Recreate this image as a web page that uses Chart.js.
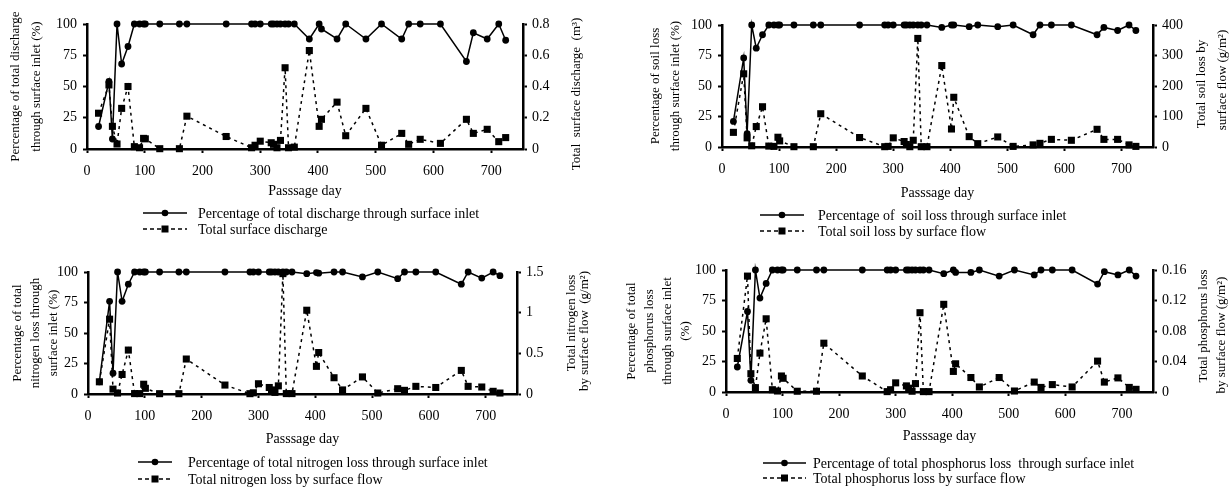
<!DOCTYPE html>
<html>
<head>
<meta charset="utf-8">
<script src="https://cdn.jsdelivr.net/npm/chart.js@4.4.1/dist/chart.umd.min.js"></script>
<style>
  body { margin: 0; background: #fff; }
  #wrap { position: relative; width: 1231px; height: 491px; }
  canvas { position: absolute; }
</style>
</head>
<body>
<div id="wrap">
  <canvas id="dischargeChart" width="615" height="245" style="left:0;top:0"></canvas>
  <canvas id="soilChart" width="616" height="245" style="left:615px;top:0"></canvas>
  <canvas id="nitrogenChart" width="615" height="246" style="left:0;top:245px"></canvas>
  <canvas id="phosphorusChart" width="616" height="246" style="left:615px;top:245px"></canvas>
</div>
<script>
// sampling days shared by all four panels
const passageDays = [20, 38, 44, 52, 60, 71, 82, 91, 98, 101, 126, 160, 173, 241, 285, 291, 300, 319, 323, 329,
  335, 343, 349, 359, 385, 402, 406, 433, 448, 483, 510, 545, 557, 577, 612, 657, 669, 693, 713, 725];

// discharge (m3)
const dischargePct = [18, 54, 8, 100, 68, 82, 100, 100, 100, 100, 100, 100, 100, 100, 100, 100, 100, 100, 100, 100,
  100, 100, 100, 100, 88, 100, 96, 88, 100, 88, 100, 88, 100, 100, 100, 70, 93, 88, 100, 87];
const dischargeTotal = [0.229, 0.41, 0.145, 0.032, 0.26, 0.40, 0.015, 0.008, 0.068, 0.065, 0.002, 0.002, 0.21, 0.08, 0.008, 0.024, 0.05, 0.04, 0.03, 0.008,
  0.055, 0.52, 0.008, 0.012, 0.63, 0.145, 0.19, 0.30, 0.085, 0.26, 0.024, 0.10, 0.03, 0.062, 0.036, 0.19, 0.10, 0.126, 0.047, 0.073];

// soil loss (g/m2)
const soilPct = [21, 73, 11, 100, 81, 92, 100, 100, 100, 100, 100, 100, 100, 100, 100, 100, 100, 100, 100, 100,
  100, 100, 100, 100, 98, 100, 100, 98.6, 100, 98.6, 100, 92, 100, 100, 100, 92, 98, 95.5, 100, 95.5];
const soilTotal = [48, 240, 30, 4, 67, 132, 3, 2, 32, 20, 1, 1, 109, 31, 1, 2, 30, 18, 8, 1,
  22, 356, 1, 1, 267, 59, 163, 34, 11, 33, 2, 7, 12, 25, 22, 58, 25, 25, 7, 2];

// nitrogen loss (g/m2)
const nitrogenPct = [10, 76, 17, 100, 76, 90, 100, 100, 100, 100, 100, 100, 100, 100, 100, 100, 100, 100, 100, 100,
  100, 100, 100, 100, 98.6, 99.5, 99, 100, 100, 96, 100, 94.5, 100, 100, 100, 90, 100, 95, 100, 97];
const nitrogenTotal = [0.15, 0.92, 0.06, 0.012, 0.24, 0.54, 0.005, 0.005, 0.12, 0.07, 0.004, 0.004, 0.43, 0.11, 0.004, 0.015, 0.126, 0.08, 0.05, 0.02,
  0.1, 1.48, 0.005, 0.005, 1.03, 0.34, 0.51, 0.2, 0.05, 0.21, 0.012, 0.065, 0.045, 0.094, 0.08, 0.29, 0.094, 0.086, 0.033, 0.012];

// phosphorus loss (g/m2)
const phosphorusPct = [20.5, 66, 9.6, 100, 77, 89, 100, 100, 100, 100, 100, 100, 100, 100, 100, 100, 100, 100, 100, 100,
  100, 100, 100, 100, 97, 100, 98, 98, 100, 95, 100, 96, 100, 100, 100, 88.5, 98.6, 96, 100, 95];
const phosphorusTotal = [0.044, 0.152, 0.024, 0.0057, 0.051, 0.096, 0.003, 0.0013, 0.021, 0.018, 0.001, 0.001, 0.064, 0.021, 0.0005, 0.003, 0.012, 0.008, 0.005, 0.001,
  0.011, 0.104, 0.0005, 0.0005, 0.115, 0.027, 0.037, 0.019, 0.0066, 0.019, 0.0013, 0.013, 0.006, 0.0097, 0.0066, 0.0405, 0.013, 0.0185, 0.006, 0.0035];

// tick labels
const dayTicks = ["0", "100", "200", "300", "400", "500", "600", "700"];
const pctTicks = ["0", "25", "50", "75", "100"];
const dischargeTicks = ["0", "0.2", "0.4", "0.6", "0.8"];
const soilTicks = ["0", "100", "200", "300", "400"];
const nitrogenTicks = ["0", "0.5", "1", "1.5"];
const phosphorusTicks = ["0", "0.04", "0.08", "0.12", "0.16"];

const serif = "'Liberation Serif', 'Times New Roman', serif";
Chart.defaults.font.family = serif;
Chart.defaults.color = "#000";

function toPoints(values) {
  return passageDays.map((day, i) => ({ x: day, y: values[i] }));
}

// right axis title (reads bottom to top) + the stacked legend under the x title
const panelExtras = {
  id: "panelExtras",
  afterDraw(chart, args, opts) {
    const ctx = chart.ctx;
    const area = chart.chartArea;
    ctx.save();
    ctx.fillStyle = "#000";
    ctx.strokeStyle = "#000";

    ctx.font = "13px " + serif;
    ctx.textAlign = "center";
    ctx.textBaseline = "middle";
    opts.rightTitle.lines.forEach((line, i) => {
      ctx.save();
      ctx.translate(area.right + opts.rightTitle.dx[i], opts.rightTitle.y[i]);
      ctx.rotate(-Math.PI / 2);
      ctx.fillText(line, 0, 0);
      ctx.restore();
    });

    const lg = opts.legend;
    ctx.font = "14px " + serif;
    ctx.textAlign = "left";
    chart.data.datasets.forEach((ds, i) => {
      const y = lg.y + i * lg.rowH;
      const mid = lg.x + lg.len / 2;
      ctx.beginPath();
      ctx.lineWidth = 1.5;
      ctx.setLineDash(ds.borderDash ? [4, 3] : []);
      ctx.moveTo(lg.x, y);
      ctx.lineTo(lg.x + lg.len, y);
      ctx.stroke();
      ctx.setLineDash([]);
      if (ds.pointStyle === "rect") {
        ctx.fillRect(mid - 3.5, y - 3.5, 7, 7);
      } else {
        ctx.beginPath();
        ctx.arc(mid, y, 3.3, 0, Math.PI * 2);
        ctx.fill();
      }
      ctx.fillText(ds.label, lg.textX, y + 1);
    });
    ctx.restore();
  }
};

const axisGrid = { drawOnChartArea: false, tickLength: 4, tickWidth: 2, tickColor: "#000" };
const axisBorder = { color: "#000", width: 2.5 };

function makePanel(canvasId, setup) {
  const ctx = document.getElementById(canvasId).getContext("2d");
  return new Chart(ctx, {
    type: "line",
    data: {
      datasets: [
        {
          label: setup.pctLabel,
          data: toPoints(setup.pct),
          yAxisID: "y",
          borderColor: "#000",
          backgroundColor: "#000",
          borderWidth: 1.5,
          pointStyle: "circle",
          pointRadius: 3.4,
          pointBorderWidth: 0,
          clip: false,
        },
        {
          label: setup.totalLabel,
          data: toPoints(setup.total),
          yAxisID: "y1",
          borderColor: "#000",
          backgroundColor: "#000",
          borderWidth: 1.5,
          borderDash: [3, 4],
          pointStyle: "rect",
          pointRadius: 5,
          pointBorderWidth: 0,
          clip: false,
        },
      ],
    },
    options: {
      responsive: false,
      animation: false,
      events: [],
      layout: { padding: { left: 0, right: 0, top: setup.top, bottom: setup.bottom } },
      plugins: {
        legend: { display: false },
        tooltip: { enabled: false },
        panelExtras: { rightTitle: setup.rightTitle, legend: setup.legend },
      },
      scales: {
        x: {
          type: "linear",
          min: 0,
          max: 755,
          ticks: {
            stepSize: 100,
            includeBounds: false,
            padding: 10,
            font: { size: 14 },
            callback: (value, index) => dayTicks[index],
          },
          grid: axisGrid,
          border: axisBorder,
          title: {
            display: true,
            text: "Passsage day",
            font: { size: 14 },
            padding: { top: 0, bottom: 1 },
          },
          afterFit: (scale) => { scale.height = setup.xHeight; },
        },
        y: {
          position: "left",
          min: 0,
          max: 100,
          ticks: {
            stepSize: 25,
            padding: 6,
            font: { size: 14 },
            callback: (value, index) => pctTicks[index],
          },
          grid: axisGrid,
          border: axisBorder,
          title: {
            display: true,
            text: setup.leftTitle,
            font: { size: 13, lineHeight: setup.leftLine },
            padding: { top: setup.leftPad, bottom: 0 },
          },
          afterFit: (scale) => { scale.width = setup.leftWidth; },
        },
        y1: {
          position: "right",
          min: 0,
          max: setup.rightMax,
          ticks: {
            stepSize: setup.rightStep,
            padding: 5,
            font: { size: 14 },
            callback: (value, index) => setup.rightTicks[index],
          },
          grid: axisGrid,
          border: axisBorder,
          afterFit: (scale) => { scale.width = setup.rightWidth; },
        },
      },
    },
    plugins: [panelExtras],
  });
}

document.addEventListener("DOMContentLoaded", function () {

  // Discharge
  makePanel("dischargeChart", {
    pct: dischargePct,
    total: dischargeTotal,
    pctLabel: "Percentage of total discharge through surface inlet",
    totalLabel: "Total surface discharge",
    top: 24, bottom: 44, xHeight: 52, leftWidth: 87, rightWidth: 92,
    leftTitle: ["Percentage of total discharge", "through surface inlet (%)"],
    leftLine: "21px", leftPad: 5,
    rightMax: 0.8, rightStep: 0.2, rightTicks: dischargeTicks,
    rightTitle: { lines: ["Total  surface discharge  (m³)"], dx: [54], y: [94] },
    legend: { x: 143, len: 44, textX: 198, y: 213, rowH: 16 },
  });

  // Soil loss
  makePanel("soilChart", {
    pct: soilPct,
    total: soilTotal,
    pctLabel: "Percentage of  soil loss through surface inlet",
    totalLabel: "Total soil loss by surface flow",
    top: 25, bottom: 42, xHeight: 56, leftWidth: 107, rightWidth: 78,
    leftTitle: ["Percentage of soil loss", "through surface inlet (%)"],
    leftLine: "20px", leftPad: 31,
    rightMax: 400, rightStep: 100, rightTicks: soilTicks,
    rightTitle: { lines: ["Total soil loss by", "surface flow (g/m²)"], dx: [49, 70], y: [84, 80] },
    legend: { x: 145, len: 44, textX: 203, y: 215, rowH: 16 },
  });

  // Nitrogen loss
  makePanel("nitrogenChart", {
    pct: nitrogenPct,
    total: nitrogenTotal,
    pctLabel: "Percentage of total nitrogen loss through surface inlet",
    totalLabel: "Total nitrogen loss by surface flow",
    top: 27, bottom: 42, xHeight: 55, leftWidth: 88, rightWidth: 98,
    leftTitle: ["Percentage of total", "nitrogen loss through", "surface inlet (%)"],
    leftLine: "18px", leftPad: 9,
    rightMax: 1.5, rightStep: 0.5, rightTicks: nitrogenTicks,
    rightTitle: { lines: ["Total nitrogen loss", "by surface flow  (g/m²)"], dx: [55, 68], y: [78, 86] },
    legend: { x: 138, len: 34, textX: 188, y: 217, rowH: 17 },
  });

  // Phosphorus loss
  makePanel("phosphorusChart", {
    pct: phosphorusPct,
    total: phosphorusTotal,
    pctLabel: "Percentage of total phosphorus loss  through surface inlet",
    totalLabel: "Total phosphorus loss by surface flow",
    top: 25, bottom: 45, xHeight: 54, leftWidth: 111, rightWidth: 78,
    leftTitle: ["Percentage of total", "phosphorus loss", "through surface inlet", "(%)"],
    leftLine: "18px", leftPad: 8,
    rightMax: 0.16, rightStep: 0.04, rightTicks: phosphorusTicks,
    rightTitle: { lines: ["Total phosphorus loss", "by surface flow (g/m²)"], dx: [51, 69], y: [81, 90] },
    legend: { x: 148, len: 43, textX: 198, y: 218, rowH: 15 },
  });

});
</script>
</body>
</html>
